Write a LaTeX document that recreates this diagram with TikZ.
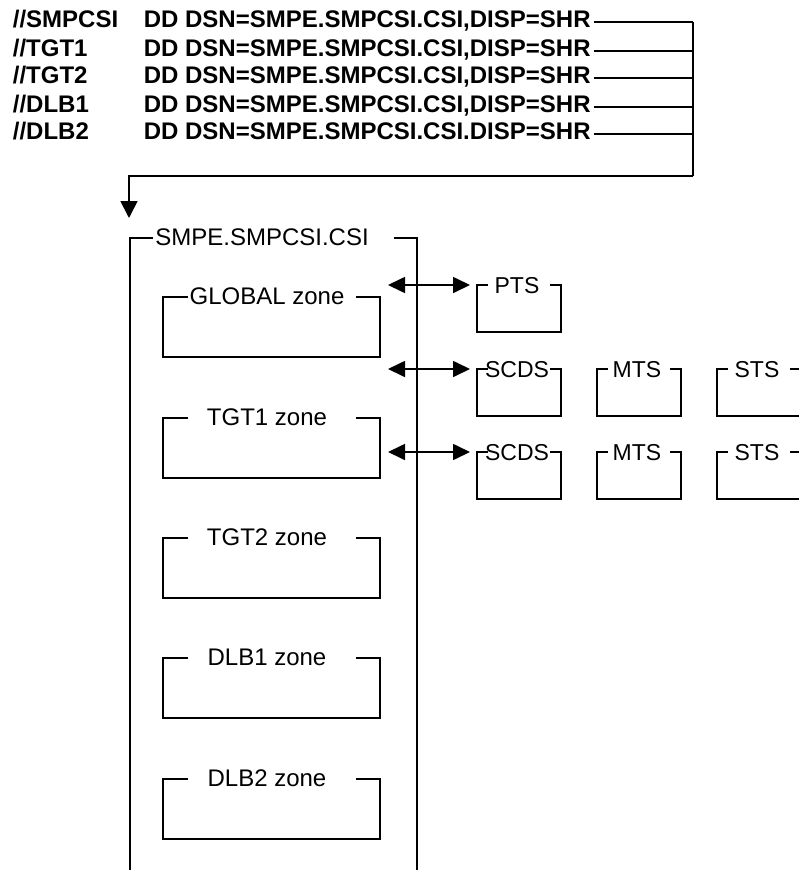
\documentclass[tikz,border=0pt]{standalone}
\usepackage{fontspec}
\setmainfont{Liberation Sans}
\usetikzlibrary{calc,arrows.meta}
\begin{document}
\begin{tikzpicture}[x=1pt,y=-1pt,line width=1.7pt,
  hdr/.style={font=\fontsize{24}{28}\selectfont\bfseries,anchor=base west,inner sep=0pt},
  lbl/.style={font=\fontsize{24}{28}\selectfont,anchor=base,inner sep=0pt},
  sml/.style={font=\fontsize{23}{28}\selectfont,anchor=base,inner sep=0pt},
  tip/.style={-{Triangle[length=17pt,width=17pt]}},
  dbl/.style={{Triangle[length=17pt,width=16pt]}-{Triangle[length=17pt,width=16pt]}}]
\useasboundingbox (0,0) rectangle (799,870);
\clip (0,0) rectangle (799,870);
% header JCL lines
\node[hdr] (j1) at (12,27.3) {//SMPCSI};
\node[hdr] (j2) at (12,56.3) {//TGT1};
\node[hdr] (j3) at (12,83.3) {//TGT2};
\node[hdr] (j4) at (12,112.3) {//DLB1};
\node[hdr] (j5) at (12,139.3) {//DLB2};
\node[hdr] (d1) at (143,27.3) {DD DSN=SMPE.SMPCSI.CSI,DISP=SHR};
\node[hdr] (d2) at (143,56.3) {DD DSN=SMPE.SMPCSI.CSI,DISP=SHR};
\node[hdr] (d3) at (143,83.3) {DD DSN=SMPE.SMPCSI.CSI,DISP=SHR};
\node[hdr] (d4) at (143,112.3) {DD DSN=SMPE.SMPCSI.CSI,DISP=SHR};
\node[hdr] (d5) at (143,139.3) {DD DSN=SMPE.SMPCSI.CSI.DISP=SHR};
\coordinate (bus) at (693,0);
\coordinate (busend) at (693,176);
\coordinate (csiin) at (129,218);
\foreach \i in {1,...,5}{
  \path ($(d\i.base east)+(3,-5.3)$) coordinate (s\i);
  \draw (s\i) -- (s\i -| bus);
}
\draw (s1 -| bus) -- (busend);
\draw[tip] (busend) -| (csiin);
% main CSI box
\node[lbl] (csi) at (262,245.7) {SMPE.SMPCSI.CSI};
\draw (153,238) -- (130,238) -- (130,880);
\draw (394,238) -- (417,238) -- (417,880);
% zones
\foreach \t/\lab/\nm in {297/GLOBAL zone/zg, 418/TGT1 zone/zt1, 538/TGT2 zone/zt2, 658/DLB1 zone/zd1, 779/DLB2 zone/zd2}{
  \node[lbl] (\nm) at (267,\t+7.5) {\lab};
  \draw (188,\t) -- (163,\t) -- (163,\t+60) -- (380,\t+60) -- (380,\t) -- (356,\t);
}
% data set boxes
\foreach \x/\t/\lab/\nm in {477/285/PTS/pts, 477/369/SCDS/sca, 597/369/MTS/mta, 717/369/STS/sta, 477/452/SCDS/scb, 597/452/MTS/mtb, 717/452/STS/stb}{
  \node[sml] (\nm) at (\x+40,\t+8.5) {\lab};
  \draw (\x+11,\t) -- (\x,\t) -- (\x,\t+47) -- (\x+84,\t+47) -- (\x+84,\t) -- (\x+73,\t);
}
% double arrows
\coordinate (a1l) at (388,285); \coordinate (a1r) at (470,285);
\coordinate (a2l) at (388,369); \coordinate (a2r) at (470,369);
\coordinate (a3l) at (388,452); \coordinate (a3r) at (470,452);
\draw[dbl] (a1l) -- (a1r);
\draw[dbl] (a2l) -- (a2r);
\draw[dbl] (a3l) -- (a3r);
\end{tikzpicture}
\end{document}
